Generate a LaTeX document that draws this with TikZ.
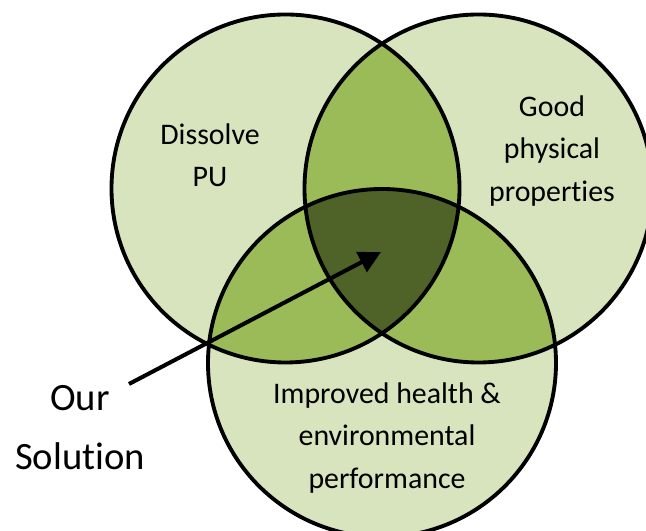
\documentclass[tikz,border=0pt]{standalone}
\usepackage{fontspec}
\setmainfont{Carlito}[Ligatures=NoCommon]
\usepackage{xcolor}
\usepackage{tikz}
\usetikzlibrary{arrows.meta}

\definecolor{vennlight}{HTML}{D7E4BD}
\definecolor{vennmid}{HTML}{9BBB59}
\definecolor{venndark}{HTML}{4F6228}
\tikzset{
  venntext/.style={align=center,font=\fontsize{17}{24}\selectfont},
  soltext/.style={align=center,font=\fontsize{22}{33.5}\selectfont},
  ring/.style={draw=black,line width=2.2pt},
  pointer/.style={line width=2.3pt,-{Triangle[length=12.5pt,width=12.5pt]}}
}

\begin{document}
\begin{tikzpicture}[scale=0.2]
\tikzstyle{every node}+=[inner sep=0pt]
\useasboundingbox (0,0) rectangle (64.6,-53.1);
\clip (0,0) rectangle (64.6,-53.1);
\coordinate (pu) at (28.55,-18.85);
\coordinate (phys) at (47.85,-18.85);
\coordinate (env) at (38.2,-36.3);
\fill [vennlight] (pu) circle (17.4);
\fill [vennlight] (phys) circle (17.4);
\fill [vennlight] (env) circle (17.4);
% pairwise overlaps
\begin{scope}
\clip (pu) circle (17.4);
\fill [vennmid] (phys) circle (17.4);
\fill [vennmid] (env) circle (17.4);
\end{scope}
\begin{scope}
\clip (phys) circle (17.4);
\fill [vennmid] (env) circle (17.4);
\end{scope}
% all three
\begin{scope}
\clip (pu) circle (17.4);
\clip (phys) circle (17.4);
\fill [venndark] (env) circle (17.4);
\end{scope}
\draw [ring] (pu) circle (17.4);
\draw [ring] (phys) circle (17.4);
\draw [ring] (env) circle (17.4);
\node [venntext] (dissolve) at (21.0,-15.5) {Dissolve\\PU};
\node [venntext] (good) at (55.2,-15.1) {Good\\physical\\properties};
\node [venntext] (health) at (38.7,-43.8) {Improved health \&\\environmental\\performance};
\node [soltext] (sol) at (8.0,-42.75) {Our\\Solution};
\coordinate (tail) at (12.9,-38.4);
\coordinate (tip) at (38.1,-25.2);
\draw [pointer] (tail) -- (tip);
\end{tikzpicture}
\end{document}
